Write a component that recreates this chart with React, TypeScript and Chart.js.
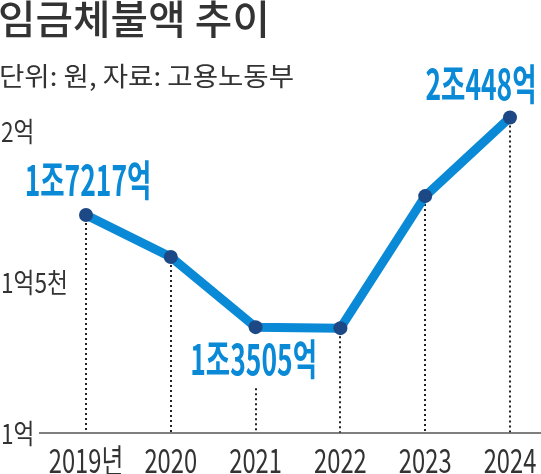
import React, { useEffect, useRef } from "react";
import { Chart, registerables } from "chart.js";

Chart.register(...registerables);

// ---- data ----
const years = ["2019년", "2020", "2021", "2022", "2023", "2024"];
const arrears = [17217, 15830, 13505, 13472, 17845, 20448]; // 억 원
const yTickValues = [10000, 15000, 20000];
const yTickLabels = ["1억", "1억5천", "2억"];
const labeledPoints = [0, 2, 5];

const TITLE = "임금체불액 추이";
const SUBTITLE = "단위: 원, 자료: 고용노동부";

// ---- style ----
const FONT = '"Noto Sans CJK KR", "Noto Sans", sans-serif';
const BLUE = "#0a8ad6";
const NAVY = "#1d4886";
const INK = "#333333";
const W = 541;
const H = 474;

const labelOffsets: Record<number, { dx: number; dy: number; below?: boolean }> = {
  0: { dx: 2, dy: -19 },
  2: { dx: -2, dy: 48, below: true },
  5: { dx: -29, dy: -17 },
};

function fmt(v: number) {
  const jo = Math.floor(v / 10000);
  const rest = v % 10000;
  return `${jo}조${rest}억`;
}

function drawText(
  ctx: CanvasRenderingContext2D,
  text: string,
  x: number,
  y: number,
  size: number,
  weight: string,
  color: string,
  align: CanvasTextAlign,
  sx: number
) {
  ctx.save();
  ctx.font = `${weight} ${size}px ${FONT}`;
  ctx.fillStyle = color;
  ctx.textBaseline = "alphabetic";
  ctx.textAlign = align;
  ctx.translate(x, y);
  ctx.scale(sx, 1);
  ctx.fillText(text, 0, 0);
  ctx.restore();
}

const decorPlugin = {
  id: "decor",
  beforeDatasetsDraw(chart: any) {
    const ctx: CanvasRenderingContext2D = chart.ctx;
    const xs = chart.scales.x;
    const ys = chart.scales.y;
    const meta = chart.getDatasetMeta(0);
    const base = ys.getPixelForValue(yTickValues[0]);
    // dotted drop lines
    ctx.save();
    ctx.strokeStyle = "#222222";
    ctx.lineWidth = 2;
    ctx.setLineDash([2, 3]);
    arrears.forEach((_, i) => {
      const x = xs.getPixelForValue(i);
      const pt = meta.data[i];
      let top = pt.y + 8;
      const lo = labelOffsets[i];
      if (lo && lo.below) top = pt.y + lo.dy + 13;
      ctx.beginPath();
      ctx.moveTo(Math.round(x), top);
      ctx.lineTo(Math.round(x), base);
      ctx.stroke();
    });
    ctx.restore();
    // baseline
    ctx.save();
    ctx.strokeStyle = "#555555";
    ctx.lineWidth = 1.5;
    ctx.beginPath();
    ctx.moveTo(39, base);
    ctx.lineTo(W, base);
    ctx.stroke();
    ctx.restore();
  },
  afterDatasetsDraw(chart: any) {
    const ctx: CanvasRenderingContext2D = chart.ctx;
    const xs = chart.scales.x;
    const ys = chart.scales.y;
    const meta = chart.getDatasetMeta(0);
    // y tick labels
    yTickValues.forEach((v, i) => {
      const y = ys.getPixelForValue(v);
      drawText(ctx, yTickLabels[i], 1, y + 11, 27, "400", INK, "left", 0.84);
    });
    // x tick labels
    years.forEach((lab, i) => {
      const x = xs.getPixelForValue(i);
      drawText(ctx, lab, x, 473, 33, "400", INK, "center", 0.72);
    });
    // value labels
    labeledPoints.forEach((i) => {
      const pt = meta.data[i];
      const lo = labelOffsets[i];
      drawText(ctx, fmt(arrears[i]), pt.x + lo.dx, pt.y + lo.dy, 42, "700", BLUE, "center", 0.63);
    });
  },
};

export default function App() {
  const ref = useRef<HTMLCanvasElement | null>(null);

  useEffect(() => {
    if (!ref.current) return;
    const chart = new Chart(ref.current, {
      type: "line",
      data: {
        labels: years,
        datasets: [
          {
            data: arrears,
            borderColor: BLUE,
            borderWidth: 9,
            borderJoinStyle: "round",
            borderCapStyle: "round",
            pointRadius: 7,
            pointHoverRadius: 7,
            pointBackgroundColor: NAVY,
            pointBorderWidth: 0,
            tension: 0,
            clip: false as any,
          },
        ],
      },
      options: {
        responsive: false,
        animation: false,
        events: [],
        layout: {
          padding: { left: 86, right: 31, top: 100.8, bottom: 41 },
          autoPadding: false,
        },
        plugins: {
          legend: { display: false },
          tooltip: { enabled: false },
        },
        scales: {
          x: { display: false, offset: false },
          y: { display: false, min: 10000, max: 21000 },
        },
      },
      plugins: [decorPlugin],
    });
    return () => chart.destroy();
  }, []);

  return (
    <div
      style={{
        position: "fixed",
        left: 0,
        top: 0,
        width: W,
        height: H,
        background: "#ffffff",
        overflow: "hidden",
      }}
    >
      <canvas ref={ref} width={W} height={H} style={{ display: "block" }} />
      <div
        style={{
          position: "absolute",
          left: -2,
          top: -2.8,
          fontFamily: FONT,
          fontSize: 40,
          lineHeight: "40px",
          fontWeight: 500,
          color: INK,
          whiteSpace: "nowrap",
          transform: "scaleX(1.02)",
          transformOrigin: "left top",
        }}
      >
        {TITLE}
      </div>
      <div
        style={{
          position: "absolute",
          left: -1,
          top: 62.2,
          fontFamily: FONT,
          fontSize: 26,
          lineHeight: "26px",
          fontWeight: 400,
          color: INK,
          whiteSpace: "nowrap",
          transform: "scaleX(1.06)",
          transformOrigin: "left top",
        }}
      >
        {SUBTITLE}
      </div>
    </div>
  );
}
